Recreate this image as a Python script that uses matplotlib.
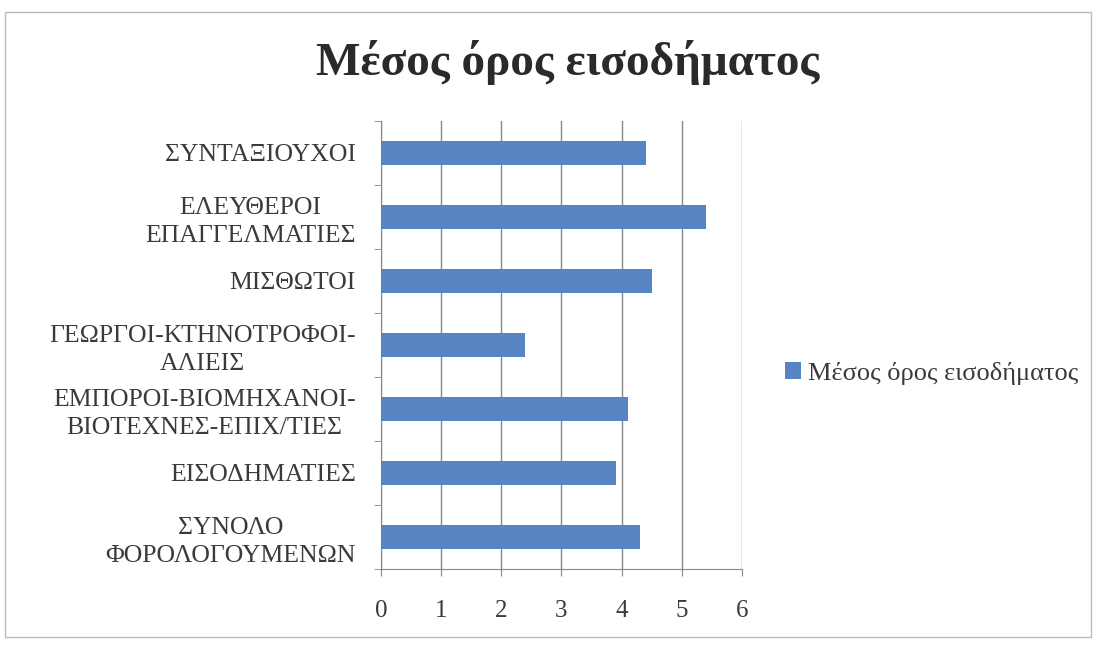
import matplotlib
matplotlib.use('Agg')
import matplotlib.pyplot as plt
import matplotlib.patches as mpatches
import numpy as np

categories = [
    'ΣΥΝΤΑΞΙΟΥΧΟΙ',
    'ΕΛΕΥΘΕΡΟΙ\nΕΠΑΓΓΕΛΜΑΤΙΕΣ',
    'ΜΙΣΘΩΤΟΙ',
    'ΓΕΩΡΓΟΙ-ΚΤΗΝΟΤΡΟΦΟΙ-\nΑΛΙΕΙΣ',
    'ΕΜΠΟΡΟΙ-ΒΙΟΜΗΧΑΝΟΙ-\nΒΙΟΤΕΧΝΕΣ-ΕΠΙΧ/ΤΙΕΣ',
    'ΕΙΣΟΔΗΜΑΤΙΕΣ',
    'ΣΥΝΟΛΟ\nΦΟΡΟΛΟΓΟΥΜΕΝΩΝ',
]
values = [4.4, 5.4, 4.5, 2.4, 4.1, 3.9, 4.3]
series_name = 'Μέσος όρος εισοδήματος'
title = 'Μέσος όρος εισοδήματος'
xticks = [0, 1, 2, 3, 4, 5, 6]

plt.rcParams['font.family'] = ['Liberation Serif', 'DejaVu Serif']
bar_color = '#5784c2'
grid_color = '#868686'
text_color = '#3a3a3a'

fig = plt.figure(figsize=(10.97, 6.49), dpi=100)
fig.patch.set_facecolor('white')
ax = fig.add_axes([0.3473, 0.1233, 0.3291, 0.6903])

y = np.arange(len(categories))
ax.barh(y, values, height=0.375, color=bar_color, label=series_name, zorder=3)

ax.set_xlim(0, 6)
ax.set_ylim(len(categories) - 0.5, -0.5)
ax.set_xticks(xticks)
ax.set_xticklabels([str(t) for t in xticks], fontsize=18, color=text_color)
ax.set_yticks(y)
ax.set_yticklabels(categories, fontsize=18.5, color=text_color, linespacing=1.32,
                   multialignment='center')
ax.set_yticks(np.arange(len(categories) + 1) - 0.5, minor=True)
ax.tick_params(axis='y', which='major', length=0, pad=18)
ax.tick_params(axis='y', which='minor', length=5, color=grid_color)
ax.tick_params(axis='x', length=5, color=grid_color, pad=17)

ax.grid(axis='x', color=grid_color, linewidth=1.0, zorder=0)
for s in ['top', 'right']:
    ax.spines[s].set_visible(False)
for s in ['left', 'bottom']:
    ax.spines[s].set_color(grid_color)

fig.text(0.517, 1 - 75 / 649, title, ha='center', va='baseline', fontsize=34,
         fontweight='bold', color='#2a2a2a')

fig.legend(loc='center left', bbox_to_anchor=(0.716, 0.425), frameon=False,
           fontsize=19, handlelength=0.6, handleheight=0.6, handletextpad=0.25,
           labelcolor=text_color, borderaxespad=0, borderpad=0)

border = mpatches.Rectangle((5 / 1097, 1 - 637 / 649), 1086 / 1097, 625 / 649,
                            transform=fig.transFigure, fill=False,
                            edgecolor='#bbbbbb', linewidth=1.0)
fig.patches.append(border)

fig.savefig('out.png', dpi=100)
